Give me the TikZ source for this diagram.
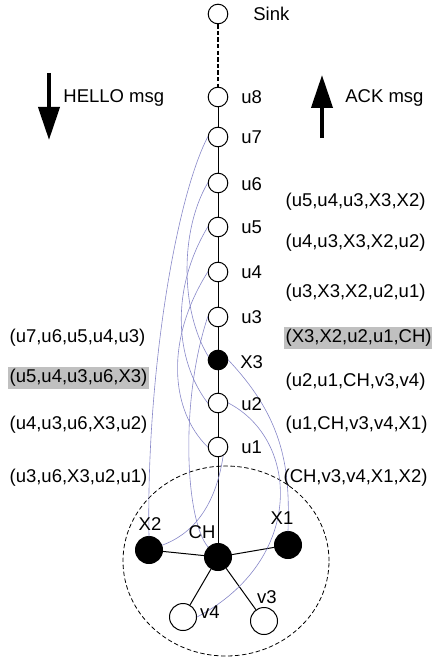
\documentclass[tikz,border=0pt]{standalone}
\usepackage{fontspec}
\setmainfont{Liberation Sans}
\usetikzlibrary{arrows.meta}
\definecolor{linkblue}{RGB}{135,135,200}
\definecolor{hlgray}{RGB}{192,192,192}

\begin{document}
\begin{tikzpicture}[line cap=round,line join=round,x=0.5pt,y=-0.5pt,
        font=\fontsize{9.25}{11}\selectfont,
        hop/.style={circle,draw,fill=white,line width=0.5pt,minimum size=9.8pt,inner sep=0pt},
        hopx/.style={hop,fill=black},
        member/.style={circle,draw,fill=white,line width=0.5pt,minimum size=13.5pt,inner sep=0pt},
        head/.style={member,fill=black},
        lbl/.style={anchor=west,inner sep=0pt},
        route/.style={anchor=west,inner xsep=0.6pt,inner ysep=1.4pt},
        hl/.style={route,fill=hlgray},
        link/.style={draw=linkblue,line width=0.3pt},
        msgarrow/.style={line width=2pt,line cap=butt,-{Triangle[width=10.5pt,length=16.5pt]}}]
                \useasboundingbox (0,0) rectangle (432,658);
                % hop chain
                \node[hop] (sink) at (218,14) {};
                \node[hop] (u8) at (218,97) {};
                \node[hop] (u7) at (218,137) {};
                \node[hop] (u6) at (218,183) {};
                \node[hop] (u5) at (218,227) {};
                \node[hop] (u4) at (218,272) {};
                \node[hop] (u3) at (218,317) {};
                \node[hopx] (x3) at (218,360) {};
                \node[hop] (u2) at (218,403) {};
                \node[hop] (u1) at (218,447) {};
                % cluster
                \node[head] (ch) at (218,557) {};
                \node[head] (x2) at (149,550) {};
                \node[head] (x1) at (288,545) {};
                \node[member] (v4) at (183,617) {};
                \node[member] (v3) at (264,621) {};
                \draw [line width=0.4pt,dash pattern=on 2pt off 1.5pt] (226,561) ellipse [x radius=51.5pt,y radius=47.5pt];
                \draw [line width=1pt,line cap=butt,dash pattern=on 2.2pt off 1.1pt] (sink)-- (u8);
                \draw [line width=0.5pt] (u8)-- (u7)-- (u6)-- (u5)-- (u4)-- (u3)-- (x3)-- (u2)-- (u1)-- (ch);
                \draw [line width=0.5pt] (ch)-- (x2);
                \draw [line width=0.5pt] (ch)-- (x1);
                \draw [line width=0.5pt] (ch)-- (v4);
                \draw [line width=0.5pt] (ch)-- (v3);
                % links
                \draw [link] (u7.west) .. controls (175,200) and (146,380) .. (x2.north);
                \draw [link] (u6.west) .. controls (180,230) and (180,310) .. (x3.160);
                \draw [link] (u5.west) .. controls (170,290) and (175,360) .. (u2.west);
                \draw [link] (u4.west) .. controls (165,340) and (170,410) .. (u1.west);
                \draw [link] (u3.west) .. controls (180,400) and (185,520) .. (ch.135);
                \draw [link] (x3.east) .. controls (285,420) and (290,470) .. (x1.north);
                \draw [link] (u2.east) .. controls (300,440) and (305,560) .. (v4.east);
                \draw [link] (u1.-60) .. controls (215,510) and (190,535) .. (x2.20);
                % messages
                \coordinate (hellotail) at (49,73);
                \coordinate (hellotip) at (49,140);
                \coordinate (acktail) at (322,138);
                \coordinate (acktip) at (322,75);
                \draw [msgarrow] (hellotail)-- (hellotip);
                \draw [msgarrow] (acktail)-- (acktip);
                \node[lbl] (hellotxt) at (63,98) {HELLO msg};
                \node[lbl] (acktxt) at (345,98) {ACK msg};
                % node labels
                \node[lbl] (sinktxt) at (253,14) {Sink};
                \node[lbl] (u8txt) at (241,97) {u8};
                \node[lbl] (u7txt) at (241,137) {u7};
                \node[lbl] (u6txt) at (241,184) {u6};
                \node[lbl] (u5txt) at (241,227) {u5};
                \node[lbl] (u4txt) at (241,272) {u4};
                \node[lbl] (u3txt) at (241,317) {u3};
                \node[lbl] (x3txt) at (240,362) {X3};
                \node[lbl] (u2txt) at (241,404) {u2};
                \node[lbl] (u1txt) at (241,447) {u1};
                \node (x2txt) at (150,524) {X2};
                \node (chtxt) at (202,532) {CH};
                \node (x1txt) at (282,518) {X1};
                \node (v4txt) at (210,612) {v4};
                \node (v3txt) at (267,597) {v3};
                % routes
                \node[route] (ack1) at (284,202) {(u5,u4,u3,X3,X2)};
                \node[route] (ack2) at (284,243) {(u4,u3,X3,X2,u2)};
                \node[route] (ack3) at (284,293) {(u3,X3,X2,u2,u1)};
                \node[hl] (ack4) at (284,338) {(X3,X2,u2,u1,CH)};
                \node[route] (ack5) at (284,382) {(u2,u1,CH,v3,v4)};
                \node[route] (ack6) at (284,425) {(u1,CH,v3,v4,X1)};
                \node[route] (ack7) at (282,478) {(CH,v3,v4,X1,X2)};
                \node[route] (hello1) at (8,338) {(u7,u6,u5,u4,u3)};
                \node[hl] (hello2) at (8,378) {(u5,u4,u3,u6,X3)};
                \node[route] (hello3) at (8,425) {(u4,u3,u6,X3,u2)};
                \node[route] (hello4) at (8,478) {(u3,u6,X3,u2,u1)};
            \end{tikzpicture}
\end{document}
